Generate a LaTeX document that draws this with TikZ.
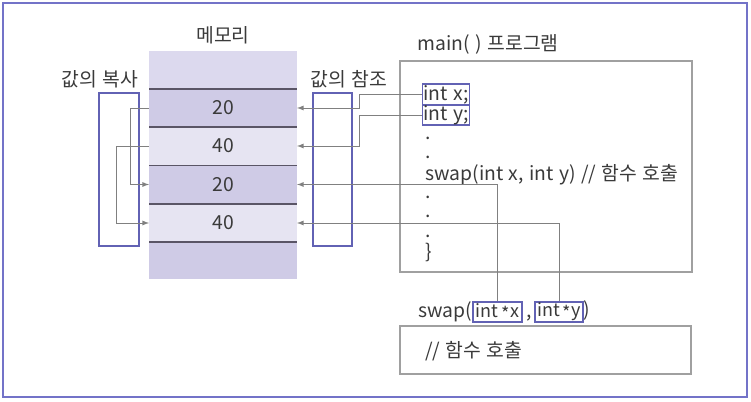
\documentclass[tikz,border=0pt]{standalone}
\usepackage{fontspec}
\setmainfont{Noto Sans CJK KR}[WordSpace=1.25]
\usetikzlibrary{positioning}
\definecolor{memtop}{HTML}{DCD9EE}
\definecolor{memdark}{HTML}{CFCBE6}
\definecolor{memlight}{HTML}{E6E4F2}
\definecolor{sepgray}{HTML}{5A5566}
\definecolor{linkgray}{HTML}{808080}
\definecolor{boxgray}{HTML}{A0A0A0}
\definecolor{frameblue}{HTML}{7373C8}
\definecolor{markblue}{HTML}{6262B4}
\definecolor{txtgray}{HTML}{3A3A3A}
\newcommand{\ptrstar}{\raisebox{-0.3ex}{*}}
\begin{document}
\begin{tikzpicture}[x=0.75pt,y=-0.75pt,>=latex,
    font=\fontsize{14.5pt}{17pt}\selectfont, text=txtgray,
    cell/.style={minimum width=111pt, minimum height=28.5pt, inner sep=0pt, outer sep=0pt},
    sep/.style={draw=sepgray, line width=1.1pt},
    link/.style={draw=linkgray, line width=0.7pt},
    markbox/.style={draw=markblue, line width=0.8pt, inner sep=0pt},
    code/.style={anchor=west, inner sep=0pt}]
  \useasboundingbox (0,0) rectangle (751,402);
  \draw[frameblue, line width=1.2pt] (3,3) rectangle (747,397);
  % memory column
  \node at (223,35) (memtitle){메모리};
  \node[cell, fill=memtop] at (223,70) (c0){};
  \node[cell, fill=memdark] at (223,108) (c1){20};
  \node[cell, fill=memlight] at (223,146) (c2){40};
  \node[cell, fill=memdark] at (223,184.5) (c3){20};
  \node[cell, fill=memlight] at (223,223) (c4){40};
  \node[cell, fill=memdark, minimum height=27.75pt] at (223,260.5) (c5){};
  \foreach \c in {c1,c2,c3,c4,c5}
    \draw[sep] (\c.north west) -- (\c.north east);
  % copy / reference marks
  \node at (100,79) (copytitle){값의 복사};
  \node[markbox, minimum width=30pt, minimum height=114.75pt] at (119,169.5) (copybox){};
  \node at (349,79) (reftitle){값의 참조};
  \node[markbox, minimum width=29.25pt, minimum height=114.75pt] at (332.5,169.5) (refbox){};
  \draw[link,->] (c1.west) -- ++(-19,0) |- (c3.west);
  \draw[link,->] (c2.west) -- ++(-33,0) |- (c4.west);
  % main program
  \node[anchor=west] at (413,44) (maintitle){main( ) 프로그램};
  \node[draw=boxgray, line width=1.1pt, minimum width=219pt, minimum height=158.25pt] at (546,166.5) (mainbox){};
  \node[markbox, anchor=west, minimum width=35.25pt, minimum height=15.75pt] at (422,94.5) (intx){int x;};
  \node[markbox, anchor=west, minimum width=35.25pt, minimum height=15pt] at (422,115) (inty){int y;};
  \node[code] at (425,138) (d1){.};
  \node[code] at (425,157) (d2){.};
  \node[code] at (425,175) (call){swap(int x, int y) // 함수 호출};
  \node[code] at (425,197) (d3){.};
  \node[code] at (425,216) (d4){.};
  \node[code] at (425,236) (d5){.};
  \node[code] at (425,252) (close){\}};
  \draw[link,<-] (c1.east) -- ++(62,0) |- (intx.west);
  \draw[link,<-] (c2.east) -- ++(62,0) |- (inty.west);
  % swap function
  \node[markbox, minimum width=36.75pt, minimum height=15pt, inner xsep=1pt, font=\fontsize{13.5pt}{16pt}\selectfont] at (497.5,312) (px){int\,\ptrstar x};
  \node[markbox, minimum width=36pt, minimum height=15pt, inner xsep=1pt, font=\fontsize{13.5pt}{16pt}\selectfont] at (559,312) (py){int\,\ptrstar y};
  \node[anchor=base east, inner sep=0pt] at (px.base west) (swapname){swap(};
  \node[anchor=base west, inner sep=0pt] at ([xshift=2.5pt]px.base east) (comma){,};
  \node[anchor=base west, inner sep=0pt] at (py.base east) (paren){)};
  \node[draw=boxgray, line width=1.1pt, minimum width=218.25pt, minimum height=36pt] at (545.5,350) (swapbox){};
  \node[code] at (425,351) (comment){// 함수 호출};
  \draw[link,<-] (c3.east) -| (px.north);
  \draw[link,<-] (c4.east) -| (py.north);
\end{tikzpicture}
\end{document}
